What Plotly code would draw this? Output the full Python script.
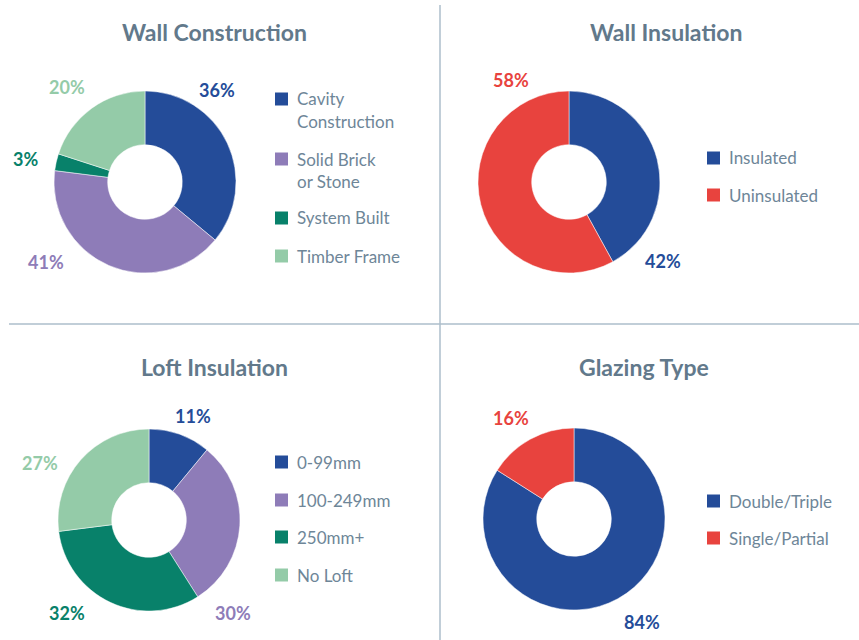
import plotly.graph_objects as go

W, H = 859, 640

# ---- data ----
wall_con_labels = ["Cavity<br>Construction", "Solid Brick<br>or Stone", "System Built", "Timber Frame"]
wall_con_values = [36, 41, 3, 20]

wall_ins_labels = ["Insulated", "Uninsulated"]
wall_ins_values = [42, 58]

loft_labels = ["0-99mm", "100-249mm", "250mm+", "No Loft"]
loft_values = [11, 30, 32, 27]

glazing_labels = ["Double/Triple", "Single/Partial"]
glazing_values = [84, 16]

# ---- styling ----
BLUE = "#244c99"
PURPLE = "#8e7cb8"
TEAL = "#08816a"
LIGHT_GREEN = "#94cba8"
RED = "#e8433e"
TITLE_COLOR = "#62798b"
TEXT_COLOR = "#6e8698"
RULE_COLOR = "#adbecb"
FONT = "Lato"

R = 91  # outer radius in px

panels = [
    dict(title="Wall Construction", title_xy=(214, 32), center=(145, 182),
         labels=wall_con_labels, values=wall_con_values,
         colors=[BLUE, PURPLE, TEAL, LIGHT_GREEN],
         pct_xy=[(217, 90), (46, 262), (25, 159), (67, 87)],
         legend_x=275, legend_y=[99, 159, 218, 256]),
    dict(title="Wall Insulation", title_xy=(666, 32), center=(569, 182),
         labels=wall_ins_labels, values=wall_ins_values,
         colors=[BLUE, RED],
         pct_xy=[(663, 261), (511, 80)],
         legend_x=707, legend_y=[158, 195]),
    dict(title="Loft Insulation", title_xy=(214, 367), center=(149, 520),
         labels=loft_labels, values=loft_values,
         colors=[BLUE, PURPLE, TEAL, LIGHT_GREEN],
         pct_xy=[(193, 416), (233, 613), (67, 613), (40, 463)],
         legend_x=275, legend_y=[462, 500, 537, 575]),
    dict(title="Glazing Type", title_xy=(644, 367), center=(574, 519),
         labels=glazing_labels, values=glazing_values,
         colors=[BLUE, RED],
         pct_xy=[(642, 622), (511, 418)],
         legend_x=707, legend_y=[501, 538]),
]


def px(x):
    return x / W


def py(y):
    return 1 - y / H


fig = go.Figure()
annotations = []
shapes = []

for p in panels:
    cx, cy = p["center"]
    fig.add_trace(go.Pie(
        labels=p["labels"], values=p["values"],
        hole=0.41, sort=False, direction="clockwise", rotation=0,
        marker=dict(colors=p["colors"], line=dict(color="white", width=0.5)),
        textinfo="none", showlegend=False,
        domain=dict(x=[px(cx - R), px(cx + R)], y=[py(cy + R), py(cy - R)]),
    ))

    tx, ty = p["title_xy"]
    annotations.append(dict(
        x=px(tx), y=py(ty), xref="paper", yref="paper", showarrow=False,
        text="<b>%s</b>" % p["title"], xanchor="center", yanchor="middle",
        font=dict(family=FONT, size=23, color=TITLE_COLOR)))

    for v, col, (lx, ly) in zip(p["values"], p["colors"], p["pct_xy"]):
        annotations.append(dict(
            x=px(lx), y=py(ly), xref="paper", yref="paper", showarrow=False,
            text="<b>%d%%</b>" % v, xanchor="center", yanchor="middle",
            font=dict(family=FONT, size=18, color=col)))

    lx = p["legend_x"]
    for lab, col, ly in zip(p["labels"], p["colors"], p["legend_y"]):
        shapes.append(dict(
            type="rect", xref="paper", yref="paper", line=dict(width=0),
            fillcolor=col, x0=px(lx), x1=px(lx + 13), y0=py(ly + 6.5), y1=py(ly - 6.5)))
        for i, line in enumerate(lab.split("<br>")):
            annotations.append(dict(
                x=px(lx + 20), y=py(ly + i * 22), xref="paper", yref="paper",
                showarrow=False, text=line, xanchor="left", yanchor="middle",
                font=dict(family=FONT, size=17, color=TEXT_COLOR)))

# divider rules between the four panels
shapes.append(dict(type="line", xref="paper", yref="paper",
                   x0=px(440), x1=px(440), y0=py(5), y1=py(640),
                   line=dict(color=RULE_COLOR, width=1.5)))
shapes.append(dict(type="line", xref="paper", yref="paper",
                   x0=px(9), x1=px(859), y0=py(324), y1=py(324),
                   line=dict(color=RULE_COLOR, width=1.5)))

fig.update_layout(
    width=W, height=H, margin=dict(l=0, r=0, t=0, b=0),
    paper_bgcolor="white", plot_bgcolor="white",
    annotations=annotations, shapes=shapes,
    font=dict(family=FONT),
)

fig.write_html("out.html")
